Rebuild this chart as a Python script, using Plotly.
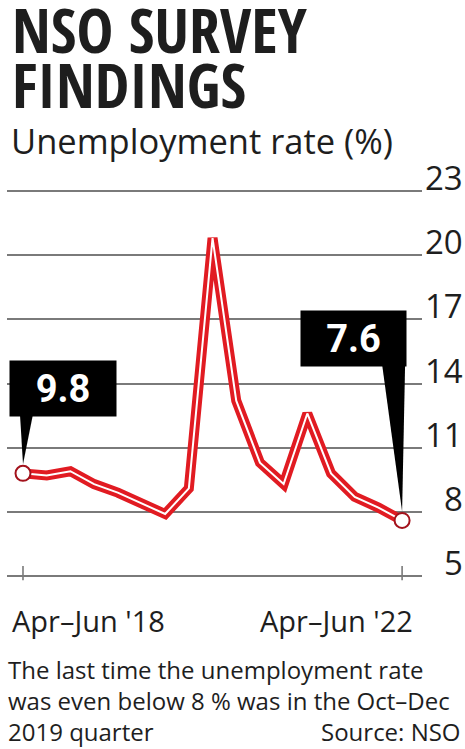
import plotly.graph_objects as go

quarters = ["Apr-Jun '18", "Jul-Sep '18", "Oct-Dec '18", "Jan-Mar '19",
            "Apr-Jun '19", "Jul-Sep '19", "Oct-Dec '19", "Jan-Mar '20",
            "Apr-Jun '20", "Jul-Sep '20", "Oct-Dec '20", "Jan-Mar '21",
            "Apr-Jun '21", "Jul-Sep '21", "Oct-Dec '21", "Jan-Mar '22",
            "Apr-Jun '22"]
rate = [9.8, 9.7, 9.9, 9.3, 8.9, 8.4, 7.9, 9.1, 20.8, 13.2, 10.3, 9.3,
        12.6, 9.8, 8.7, 8.2, 7.6]
y_ticks = [5, 8, 11, 14, 17, 20, 23]
x_label_first = "Apr\u2013Jun '18"
x_label_last = "Apr\u2013Jun '22"

RED = "#e11b22"
DARKRED = "#a3121c"
GRID = "#7a7a7a"
TXT = "#1e1e1e"
W, H = 465, 749
TITLE_FONT = "Open Sans Condensed, DejaVu Sans Condensed, sans-serif"

fig = go.Figure()
fig.add_trace(go.Scatter(x=quarters, y=rate, mode="lines",
                         line=dict(color=RED, width=10), cliponaxis=False,
                         hoverinfo="skip"))
fig.add_trace(go.Scatter(x=quarters, y=rate, mode="lines",
                         line=dict(color="white", width=2), cliponaxis=False,
                         hoverinfo="skip"))
fig.add_trace(go.Scatter(x=[quarters[0], quarters[-1]], y=[rate[0], rate[-1]],
                         mode="markers", cliponaxis=False,
                         marker=dict(size=15, color="white",
                                     line=dict(color=DARKRED, width=2)),
                         hoverinfo="skip"))

fig.update_layout(
    width=W, height=H,
    margin=dict(l=0, r=0, t=0, b=0),
    paper_bgcolor="white", plot_bgcolor="white",
    showlegend=False,
    xaxis=dict(domain=[7 / W, 422 / W], range=[-0.675, 16.84],
               showgrid=False, showticklabels=False, zeroline=False,
               showline=False, type="category", fixedrange=True),
    yaxis=dict(domain=[0.2252, 0.7507], range=[4.8, 23.2], side="right",
               tickvals=y_ticks, showticklabels=False,
               showgrid=True, gridcolor=GRID, gridwidth=1.6,
               zeroline=False, showline=False, ticks="",
               automargin=False, fixedrange=True),
)

shapes = []
# x-axis tick marks at first and last quarter
for q in (quarters[0], quarters[-1]):
    shapes.append(dict(type="line", xref="x", yref="y", x0=q, x1=q,
                       ysizemode="pixel", yanchor=y_ticks[0], y0=-22, y1=10,
                       line=dict(color=GRID, width=1.6)))
# callout wedges
shapes.append(dict(type="path", xref="x", yref="y",
                   xsizemode="pixel", xanchor=0,
                   ysizemode="pixel", yanchor=rate[0],
                   path="M -3,59 L 10,59 L 0,9 Z",
                   fillcolor="black", line=dict(width=0)))
shapes.append(dict(type="path", xref="x", yref="y",
                   xsizemode="pixel", xanchor=len(quarters) - 1,
                   ysizemode="pixel", yanchor=rate[-1],
                   path="M -20,156 L 3,156 L 0,9 Z",
                   fillcolor="black", line=dict(width=0)))
fig.update_layout(shapes=shapes)

ann = []
# y tick labels, sitting on their gridlines
for v in y_ticks:
    ann.append(dict(x=1 - 1 / W, y=v, xref="paper", yref="y",
                    xanchor="right", yanchor="bottom", yshift=-10,
                    showarrow=False, text=str(v), borderpad=0,
                    font=dict(family="Open Sans", size=33, color=TXT)))
# value boxes
ann.append(dict(x=quarters[0], y=rate[0], xref="x", yref="y",
                xshift=40, yshift=84.5, showarrow=False,
                text=f"<b>{rate[0]}</b>", bgcolor="black", borderpad=0,
                width=106, height=55, align="center", valign="middle",
                font=dict(family="Roboto", size=38, color="white")))
ann.append(dict(x=quarters[-1], y=rate[-1], xref="x", yref="y",
                xshift=-48.5, yshift=181.5, showarrow=False,
                text=f"<b>{rate[-1]}</b>", bgcolor="black", borderpad=0,
                width=105, height=55, align="center", valign="middle",
                font=dict(family="Roboto", size=38, color="white")))
# titles
ann.append(dict(x=10 / W, y=1 - 73 / H, xref="paper", yref="paper",
                xanchor="left", yanchor="bottom", showarrow=False,
                text="<b>NSO SURVEY</b>",
                font=dict(family=TITLE_FONT, size=62, color=TXT)))
ann.append(dict(x=10 / W, y=1 - 128 / H, xref="paper", yref="paper",
                xanchor="left", yanchor="bottom", showarrow=False,
                text="<b>FINDINGS</b>",
                font=dict(family=TITLE_FONT, size=62, color=TXT)))
ann.append(dict(x=9 / W, y=1 - 166 / H, xref="paper", yref="paper",
                xanchor="left", yanchor="bottom", showarrow=False,
                text="Unemployment rate (%)",
                font=dict(family="Open Sans", size=34.5, color=TXT)))
# x labels
ann.append(dict(x=quarters[0], y=y_ticks[0], xref="x", yref="y",
                xshift=-13, yshift=-23, xanchor="left", yanchor="top",
                showarrow=False, text=x_label_first,
                font=dict(family="Open Sans", size=29, color=TXT)))
ann.append(dict(x=quarters[-1], y=y_ticks[0], xref="x", yref="y",
                xshift=13, yshift=-23, xanchor="right", yanchor="top",
                showarrow=False, text=x_label_last,
                font=dict(family="Open Sans", size=29, color=TXT)))
# footnote
ann.append(dict(x=6 / W, y=1 - 651 / H, xref="paper", yref="paper",
                xanchor="left", yanchor="top", showarrow=False, align="left",
                text="The last time the unemployment rate<br>"
                     "was even below 8 % was in the Oct\u2013Dec<br>"
                     "2019 quarter",
                font=dict(family="Open Sans", size=24, color=TXT)))
ann.append(dict(x=1 - 2 / W, y=1 - 713 / H, xref="paper", yref="paper",
                xanchor="right", yanchor="top", showarrow=False,
                text="Source: NSO",
                font=dict(family="Open Sans", size=24, color=TXT)))
fig.update_layout(annotations=ann)

fig.write_html("out.html", config={"displayModeBar": False},
               post_script="document.body.style.margin='0';")
